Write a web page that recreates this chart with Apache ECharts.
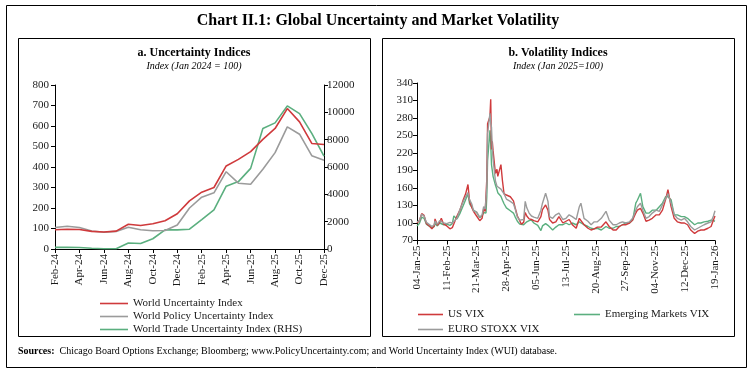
<!DOCTYPE html>
<html>
<head>
<meta charset="utf-8">
<script src="https://cdn.jsdelivr.net/npm/echarts@6/dist/echarts.min.js"></script>
<style>
html,body{margin:0;padding:0;background:#fff;}
#c{width:756px;height:374px;}
</style>
</head>
<body>
<div id="c"></div>
<script>
// ---------- Panel a: monthly uncertainty indices ----------
const months = ['Feb-24','Mar-24','Apr-24','May-24','Jun-24','Jul-24','Aug-24','Sep-24','Oct-24','Nov-24','Dec-24',
  'Jan-25','Feb-25','Mar-25','Apr-25','May-25','Jun-25','Jul-25','Aug-25','Sep-25','Oct-25','Nov-25','Dec-25'];
const wui  = [94, 96, 95, 86, 83, 87, 121, 115, 123, 138, 172, 235, 277, 300, 405, 437, 475, 535, 588, 685, 620, 515, 510];
const wpui = [105, 111, 105, 88, 82, 86, 106, 94, 89, 90, 117, 200, 253, 274, 377, 321, 316, 389, 470, 596, 560, 455, 433];
const wtui = [120, 120, 110, 60, 20, 20, 440, 400, 750, 1400, 1400, 1450, 2150, 2860, 4600, 4930, 5900, 8820, 9230, 10470, 9910, 8460, 6800];

// ---------- Panel b: daily volatility indices (sampled readings) ----------
const volDates = ['2025-01-04','2025-01-07','2025-01-10','2025-01-13','2025-01-16','2025-01-19','2025-01-23','2025-01-26','2025-01-27','2025-01-30',
 '2025-02-02','2025-02-04','2025-02-07','2025-02-11','2025-02-15','2025-02-18','2025-02-20','2025-02-24','2025-02-28',
 '2025-03-04','2025-03-07','2025-03-10','2025-03-12','2025-03-15','2025-03-17','2025-03-21','2025-03-25','2025-03-28','2025-03-30',
 '2025-04-01','2025-04-02','2025-04-03','2025-04-04','2025-04-07','2025-04-08','2025-04-09','2025-04-10','2025-04-11','2025-04-14',
 '2025-04-16','2025-04-17','2025-04-21','2025-04-23','2025-04-25','2025-04-28','2025-04-30',
 '2025-05-03','2025-05-05','2025-05-07','2025-05-09','2025-05-12','2025-05-15','2025-05-17','2025-05-20','2025-05-22','2025-05-24','2025-05-27','2025-05-30',
 '2025-06-02','2025-06-07','2025-06-11','2025-06-13','2025-06-17','2025-06-20','2025-06-22','2025-06-26','2025-06-30',
 '2025-07-04','2025-07-09','2025-07-13','2025-07-17','2025-07-21','2025-07-26','2025-07-30',
 '2025-08-01','2025-08-05','2025-08-10','2025-08-14','2025-08-18','2025-08-22','2025-08-27',
 '2025-09-02','2025-09-06','2025-09-11','2025-09-15','2025-09-19','2025-09-23','2025-09-27',
 '2025-10-02','2025-10-06','2025-10-10','2025-10-12','2025-10-16','2025-10-19','2025-10-23','2025-10-27','2025-10-31',
 '2025-11-05','2025-11-09','2025-11-13','2025-11-17','2025-11-20','2025-11-24','2025-11-28',
 '2025-12-02','2025-12-07','2025-12-11','2025-12-15','2025-12-19','2025-12-24','2025-12-28',
 '2026-01-01','2026-01-05','2026-01-10','2026-01-14','2026-01-17','2026-01-19'];
const usVix = [100,104,116,113,99,96,90,95,107,96,
 101,108,98,95,90,92,94,112,123,
 140,150,166,138,126,120,112,104,108,124,
 120,117,175,270,282,312,226,240,224,185,
 192,180,200,172,150,148,148,
 145,147,138,127,112,104,98,101,118,112,107,106,
 104,102,111,123,131,122,106,100,102,
 111,100,103,106,97,91,108,
 111,97,91,88,90,93,93,
 102,94,88,88,94,97,97,
 100,105,117,122,125,117,103,105,108,
 114,114,122,140,157,128,108,
 102,100,100,97,88,82,86,
 88,88,91,94,105,112];
const euroVix = [102,104,115,112,101,98,94,97,103,98,
 104,106,100,99,101,100,103,108,124,
 137,145,152,140,132,121,119,110,114,128,
 124,121,160,253,288,272,264,230,210,172,
 163,160,158,156,150,141,139,
 137,136,133,125,110,105,102,106,137,126,117,112,
 110,108,122,134,151,137,111,108,114,
 117,106,108,114,111,106,128,
 134,108,103,97,102,102,108,
 120,105,97,97,100,102,100,
 102,108,122,128,134,122,108,111,117,
 122,120,131,142,150,134,114,
 108,105,108,102,94,88,91,
 94,97,100,102,112,121];
const emVix = [95,99,110,108,98,95,92,94,99,95,
 100,103,97,98,96,99,112,107,117,
 130,140,150,133,127,122,118,109,112,118,
 121,117,145,207,259,236,200,190,180,165,
 157,152,146,139,133,126,124,
 121,120,117,111,103,98,96,97,100,102,104,105,
 100,96,87,95,99,96,93,88,93,
 97,97,100,97,100,97,102,
 103,97,94,91,90,91,88,
 94,91,91,94,94,97,100,
 100,105,134,139,151,128,117,117,122,
 122,128,134,145,145,140,114,
 114,111,111,108,103,97,100,
 100,102,103,105,104,103];

const red = '#CF3A3C', gray = '#9B9B9B', green = '#5BAF7F';
const FONT = '"Liberation Serif", "DejaVu Serif", serif';
const txtColor = '#1a1a1a';

// full list of calendar days for panel b category axis
const dayCats = [];
(function(){
  const d = new Date(Date.UTC(2025,0,4));
  const end = Date.UTC(2026,0,19);
  while (d.getTime() <= end) {
    dayCats.push(d.toISOString().slice(0,10));
    d.setUTCDate(d.getUTCDate()+1);
  }
})();
const MON = ['Jan','Feb','Mar','Apr','May','Jun','Jul','Aug','Sep','Oct','Nov','Dec'];
function fmtDay(s){ return s.slice(8,10)+'-'+MON[+s.slice(5,7)-1]+'-'+s.slice(2,4); }
function pairs(vals){ return volDates.map((d,i)=>[d, vals[i]]); }

const axisLbl = {color: txtColor, fontFamily: FONT, fontSize: 11};
const axisLine = {show: true, lineStyle: {color: '#000', width: 1}};
const axisTick = {show: true, length: 4, lineStyle: {color: '#000'}};
const legText = {fontFamily: FONT, fontSize: 11, color: txtColor};

const chart = echarts.init(document.getElementById('c'), null, {renderer: 'canvas'});
chart.setOption({
  animation: false,
  backgroundColor: '#fff',
  textStyle: {fontFamily: FONT},
  graphic: [
    {type: 'rect', shape: {x: 6.5, y: 5.5, width: 740, height: 362}, style: {fill: 'none', stroke: '#000', lineWidth: 1}},
    {type: 'rect', shape: {x: 18.5, y: 38.5, width: 352, height: 298}, style: {fill: 'none', stroke: '#000', lineWidth: 1}},
    {type: 'rect', shape: {x: 382.5, y: 38.5, width: 352, height: 298}, style: {fill: 'none', stroke: '#000', lineWidth: 1}},
    {type: 'text', x: 378, y: 21, style: {text: 'Chart II.1: Global Uncertainty and Market Volatility', textAlign: 'center', textVerticalAlign: 'middle', font: 'bold 16px ' + FONT, fill: '#000'}},
    {type: 'text', x: 194, y: 53, style: {text: 'a. Uncertainty Indices', textAlign: 'center', textVerticalAlign: 'middle', font: 'bold 12px ' + FONT, fill: '#000'}},
    {type: 'text', x: 194, y: 66, style: {text: 'Index (Jan 2024 = 100)', textAlign: 'center', textVerticalAlign: 'middle', font: 'italic 10px ' + FONT, fill: '#000'}},
    {type: 'text', x: 558, y: 53, style: {text: 'b. Volatility Indices', textAlign: 'center', textVerticalAlign: 'middle', font: 'bold 12px ' + FONT, fill: '#000'}},
    {type: 'text', x: 558, y: 66, style: {text: 'Index (Jan 2025=100)', textAlign: 'center', textVerticalAlign: 'middle', font: 'italic 10px ' + FONT, fill: '#000'}},
    {type: 'text', x: 18, y: 351, style: {
      text: '{b|Sources:}  Chicago Board Options Exchange; Bloomberg; www.PolicyUncertainty.com; and World Uncertainty Index (WUI) database.',
      textVerticalAlign: 'middle', font: '10px ' + FONT, fill: '#000',
      rich: {b: {fontWeight: 'bold', fontSize: 10, fontFamily: FONT}}
    }}
  ],
  legend: [
    {left: 95, top: 293, icon: 'rect', itemWidth: 28, itemHeight: 1.6, textStyle: legText, data: ['World Uncertainty Index']},
    {left: 95, top: 306, icon: 'rect', itemWidth: 28, itemHeight: 1.6, textStyle: legText, data: ['World Policy Uncertainty Index']},
    {left: 95, top: 319, icon: 'rect', itemWidth: 28, itemHeight: 1.6, textStyle: legText, data: ['World Trade Uncertainty Index (RHS)']},
    {left: 413, top: 304, icon: 'rect', itemWidth: 25, itemHeight: 1.6, textStyle: legText, data: ['US VIX']},
    {left: 569, top: 304, icon: 'rect', itemWidth: 26, itemHeight: 1.6, textStyle: legText, data: ['Emerging Markets VIX']},
    {left: 413, top: 319, icon: 'rect', itemWidth: 25, itemHeight: 1.6, textStyle: legText, data: ['EURO STOXX VIX']}
  ],
  grid: [
    {left: 55, top: 85, width: 269, height: 164},
    {left: 417, top: 83, width: 298, height: 157.5}
  ],
  xAxis: [
    {type: 'category', gridIndex: 0, data: months, boundaryGap: false,
     axisLine: axisLine, axisTick: Object.assign({}, axisTick, {interval: 1}),
     axisLabel: Object.assign({}, axisLbl, {rotate: 90, interval: 1, margin: 5}), splitLine: {show: false}},
    {type: 'category', gridIndex: 1, data: dayCats, boundaryGap: false,
     axisLine: axisLine, axisTick: Object.assign({}, axisTick, {interval: 37}),
     axisLabel: Object.assign({}, axisLbl, {rotate: 90, interval: 37, margin: 5, formatter: fmtDay}), splitLine: {show: false}}
  ],
  yAxis: [
    {type: 'value', gridIndex: 0, min: 0, max: 800, interval: 100, position: 'left',
     axisLine: axisLine, axisTick: axisTick, axisLabel: Object.assign({}, axisLbl, {margin: 6}), splitLine: {show: false}},
    {type: 'value', gridIndex: 0, min: 0, max: 12000, interval: 2000, position: 'right',
     axisLine: axisLine, axisTick: axisTick, axisLabel: Object.assign({}, axisLbl, {margin: 3, formatter: v => String(v)}), splitLine: {show: false}},
    {type: 'value', gridIndex: 1, min: 70, max: 340, interval: 30, position: 'left',
     axisLine: axisLine, axisTick: axisTick, axisLabel: Object.assign({}, axisLbl, {margin: 4}), splitLine: {show: false}}
  ],
  series: [
    {name: 'World Uncertainty Index', type: 'line', xAxisIndex: 0, yAxisIndex: 0, data: wui, symbol: 'none', lineStyle: {color: red, width: 1.6}, itemStyle: {color: red}, z: 3},
    {name: 'World Policy Uncertainty Index', type: 'line', xAxisIndex: 0, yAxisIndex: 0, data: wpui, symbol: 'none', lineStyle: {color: gray, width: 1.6}, itemStyle: {color: gray}, z: 2},
    {name: 'World Trade Uncertainty Index (RHS)', type: 'line', xAxisIndex: 0, yAxisIndex: 1, data: wtui, symbol: 'none', lineStyle: {color: green, width: 1.6}, itemStyle: {color: green}, z: 1},
    {name: 'US VIX', type: 'line', xAxisIndex: 1, yAxisIndex: 2, data: pairs(usVix), symbol: 'none', lineStyle: {color: red, width: 1.4}, itemStyle: {color: red}, z: 3},
    {name: 'Emerging Markets VIX', type: 'line', xAxisIndex: 1, yAxisIndex: 2, data: pairs(emVix), symbol: 'none', lineStyle: {color: green, width: 1.4}, itemStyle: {color: green}, z: 2},
    {name: 'EURO STOXX VIX', type: 'line', xAxisIndex: 1, yAxisIndex: 2, data: pairs(euroVix), symbol: 'none', lineStyle: {color: gray, width: 1.4}, itemStyle: {color: gray}, z: 4}
  ]
});
</script>
</body>
</html>
